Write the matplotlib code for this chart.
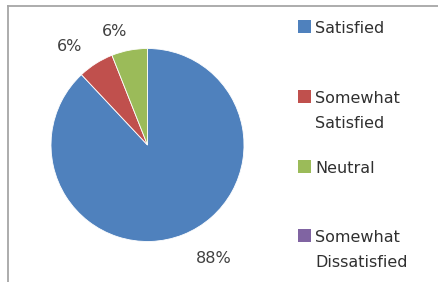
import numpy as np
import matplotlib
matplotlib.use("Agg")
import matplotlib.pyplot as plt
from matplotlib.patches import Rectangle
from matplotlib.lines import Line2D

categories = ["Satisfied", "Somewhat\nSatisfied", "Neutral", "Somewhat\nDissatisfied"]
values = [88, 6, 6, 0]
colors = ["#4F81BD", "#C0504D", "#9BBB59", "#8064A2"]

plt.rcParams['font.family'] = ['DejaVu Sans']

W, H = 438, 282
fig = plt.figure(figsize=(W / 100, H / 100), dpi=100)

# chart border (left and top visible)
fig.add_artist(Line2D([8 / W, 8 / W], [0, 1 - 6 / H], transform=fig.transFigure,
                      color="#a6a6a6", lw=1.3))
fig.add_artist(Line2D([8 / W, 1], [1 - 6 / H, 1 - 6 / H], transform=fig.transFigure,
                      color="#a6a6a6", lw=1.3))

cx, cy, r = 147.5, 145, 96.5
ax = fig.add_axes([(cx - r) / W, 1 - (cy + r) / H, 2 * r / W, 2 * r / H])
nz = [(v, c) for v, c in zip(values, colors) if v > 0]
total = sum(values)
wedges, texts = ax.pie([v for v, _ in nz], colors=[c for _, c in nz],
                       startangle=90, counterclock=False,
                       wedgeprops=dict(linewidth=0.6, edgecolor="white"))
ax.set_aspect("equal")
ax.set_xlim(-1, 1)
ax.set_ylim(-1, 1)

# data labels (best-fit style placement: distance factor, angular shift)
label_style = [(1.363, 8.8), (1.30, 5.8), (1.228, 5.1)]
for w, (v, _), (dist, shift) in zip(wedges, nz, label_style):
    ang = np.deg2rad((w.theta1 + w.theta2) / 2 + shift)
    ax.text(dist * np.cos(ang), dist * np.sin(ang), f"{100 * v / total:.0f}%",
            ha="center", va="center", fontsize=11.5, color="#404040", clip_on=False)

# legend (manual layout, marker on first line)
baselines = [33, 103, 173, 242]
for cat, col, yb in zip(categories, colors, baselines):
    fig.add_artist(Rectangle((298 / W, 1 - yb / H), 13 / W, 13 / H,
                             transform=fig.transFigure, facecolor=col, edgecolor="none"))
    for i, line in enumerate(cat.split("\n")):
        fig.text(315 / W, 1 - (yb + 25 * i) / H, line, fontsize=11.5, color="#303030",
                 va="baseline", ha="left")

fig.savefig("out.png", dpi=100)
